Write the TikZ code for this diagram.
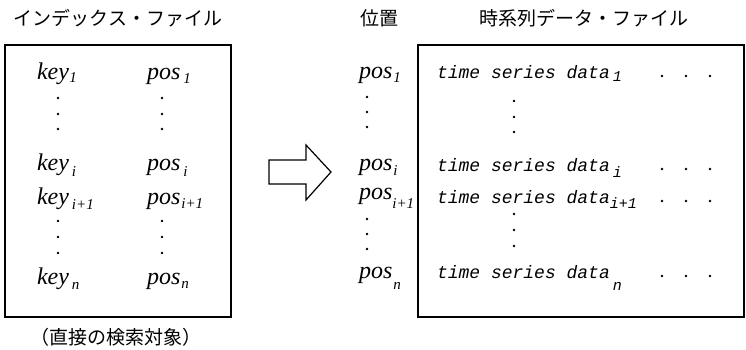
\documentclass[tikz,border=0pt]{standalone}
\usepackage{fontspec}
\setmainfont{Liberation Serif}
\newfontfamily\monofont{Liberation Mono}
\newfontfamily\jpfont{Noto Sans CJK JP}
% lowered subscript: #1 gap before it, #2 drop below the baseline, #3 text
\newcommand\ksub[3]{\kern#1\raisebox{-#2}{\fontsize{15}{15}\selectfont\itshape #3}}
\begin{document}
\begin{tikzpicture}[x=1pt,y=-1pt,
  every node/.style={inner sep=0pt,outer sep=0pt},
  frame/.style={draw=black,line width=1.4pt,minimum width=#1,minimum height=272pt},
  jp/.style={font=\jpfont\fontsize{19}{19}\selectfont,anchor=center},
  entry/.style={font=\fontsize{24}{24}\selectfont\itshape,anchor=base west},
  series/.style={font=\monofont\fontsize{18}{18}\selectfont\itshape,anchor=base west},
  bigarrow/.style={draw=black,line width=1.2pt,fill=white,line join=miter}]
\useasboundingbox (0,0) rectangle (746,349);

% headings
\node[jp] (idxtitle) at (118,18) {インデックス・ファイル};
\node[jp] (postitle) at (379,18) {位置};
\node[jp] (tstitle) at (584,18) {時系列データ・ファイル};
\node[jp] (note) at (116,337) {（直接の検索対象）};

% the two files
\node[frame=226pt] (idxbox) at (118,181) {};
\node[frame=326pt] (tsbox) at (581,181) {};

% index file: keys and positions
\node[entry] (k1) at (37,79) {key\ksub{0.5pt}{3pt}{1}};
\node[entry] (ki) at (37,170) {key\ksub{3pt}{6pt}{i}};
\node[entry] (kj) at (37,204) {key\ksub{3pt}{5pt}{i+1}};
\node[entry] (kn) at (37,284) {key\ksub{3pt}{5pt}{n}};
\node[entry] (p1) at (147,79) {pos\ksub{3pt}{4pt}{1}};
\node[entry] (pi) at (147,170) {pos\ksub{3pt}{6pt}{i}};
\node[entry] (pj) at (147,204) {pos\ksub{1pt}{4pt}{i+1}};
\node[entry] (pn) at (147,284) {pos\ksub{1pt}{4pt}{n}};

% positions column
\node[entry] (q1) at (359,78) {pos\ksub{1pt}{4pt}{1}};
\node[entry] (qi) at (359,170) {pos\ksub{1pt}{5pt}{i}};
\node[entry] (qj) at (359,199) {pos\ksub{0pt}{9pt}{i+1}};
\node[entry] (qn) at (359,278) {pos\ksub{1pt}{11pt}{n}};

% time series records
\node[series] (d1) at (437,78) {time series data\ksub{3pt}{3pt}{1}};
\node[series] (di) at (437,171) {time series data\ksub{3pt}{6pt}{i}};
\node[series] (dj) at (437,203) {time series data\ksub{0pt}{5pt}{i+1}};
\node[series] (dn) at (437,278) {time series data\ksub{3pt}{12pt}{n}};

% vertical ellipses
\foreach \x in {58,162}{
  \foreach \y in {98,114,129,221,237,253}{\fill (\x,\y) circle (1.3pt);}}
\foreach \y in {97,112,127,219,234,249}{\fill (367,\y) circle (1.3pt);}
\foreach \y in {101,117,132,214,230,246}{\fill (514,\y) circle (1.3pt);}
% trailing dots after each record
\foreach \y in {76,169,201,276}{
  \foreach \x in {662,686,710}{\fill (\x,\y) circle (1.3pt);}}

% block arrow from the index to the data file
\draw[bigarrow] (269,160) -- (306,160) -- (306,145) -- (331,172)
  -- (306,200) -- (306,184) -- (269,184) -- cycle;
\end{tikzpicture}
\end{document}
